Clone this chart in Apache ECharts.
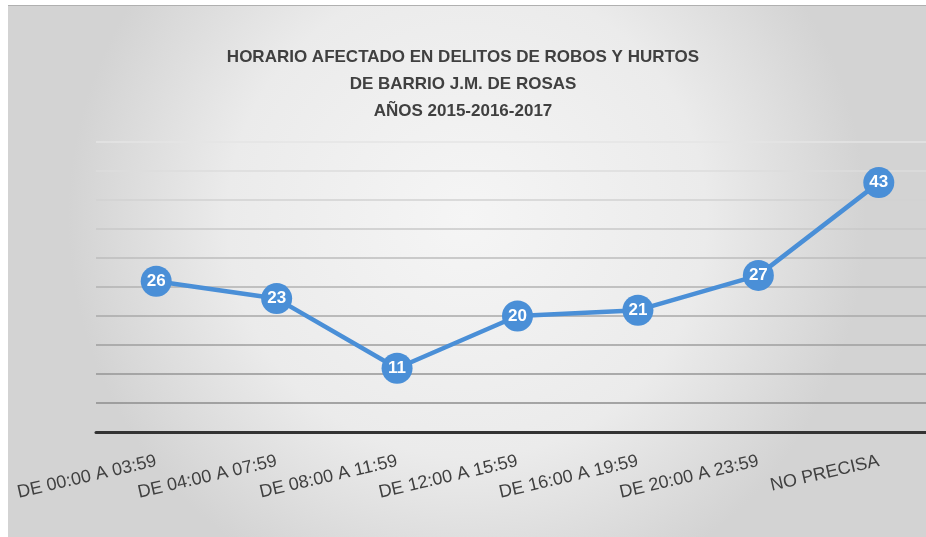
<!DOCTYPE html>
<html>
<head>
<meta charset="utf-8">
<script src="https://cdn.jsdelivr.net/npm/echarts@6/dist/echarts.min.js"></script>
<style>
  html, body { margin: 0; padding: 0; background: #ffffff; }
  #chart { width: 926px; height: 537px; }
</style>
</head>
<body>
<div id="chart"></div>
<script>
// Horario de los hechos (franjas de 4 horas)
const categories = [
  'DE 00:00 A 03:59',
  'DE 04:00 A 07:59',
  'DE 08:00 A 11:59',
  'DE 12:00 A 15:59',
  'DE 16:00 A 19:59',
  'DE 20:00 A 23:59',
  'NO PRECISA'
];
// Cantidad de robos y hurtos por franja
const delitos = [26, 23, 11, 20, 21, 27, 43];

const titleLines = [
  'HORARIO AFECTADO EN DELITOS DE ROBOS Y HURTOS',
  'DE BARRIO J.M. DE ROSAS',
  'AÑOS 2015-2016-2017'
];

// gridlines fade from dark (bottom) to light (top)
const gridColors = ['#333333', '#8c8c8c', '#959595', '#9e9e9e', '#a8a8a8', '#b2b2b2',
                    '#bdbdbd', '#c8c8c8', '#d2d2d2', '#dcdcdc', '#e4e4e4'];

const font = '"Liberation Sans", sans-serif';

const chart = echarts.init(document.getElementById('chart'), null, { renderer: 'canvas' });

chart.setOption({
  backgroundColor: '#ffffff',
  animation: false,
  graphic: [
    {
      type: 'rect',
      z: -10,
      silent: true,
      shape: { x: 8, y: 5, width: 918, height: 532 },
      style: {
        fill: new echarts.graphic.RadialGradient(0.5, 0.4, 0.75, [
          { offset: 0, color: '#f5f5f5' },
          { offset: 0.6, color: '#ebebeb' },
          { offset: 1, color: '#d3d3d3' }
        ])
      }
    },
    {
      type: 'line',
      z: -9,
      silent: true,
      shape: { x1: 8, y1: 5.5, x2: 926, y2: 5.5 },
      style: { stroke: '#b0b0b0', lineWidth: 1 }
    }
  ],
  title: {
    text: titleLines.join('\n'),
    left: 'center',
    top: 39,
    textStyle: {
      fontFamily: font,
      fontWeight: 'bold',
      fontSize: 17,
      lineHeight: 27,
      color: '#404040'
    }
  },
  // plot area runs a little past the right edge of the canvas
  grid: { left: 96, width: 843, top: 142, bottom: 105, containLabel: false, outerBoundsMode: 'none' },
  xAxis: {
    type: 'category',
    data: categories,
    boundaryGap: true,
    axisLine: { show: true, lineStyle: { color: '#333333', width: 3 } },
    axisTick: { show: false },
    axisLabel: {
      rotate: 13,
      margin: 29,
      interval: 0,
      fontFamily: font,
      fontSize: 18,
      color: '#404040'
    },
    splitLine: { show: false }
  },
  yAxis: {
    type: 'value',
    min: 0,
    max: 50,
    interval: 5,
    axisLine: { show: false },
    axisTick: { show: false },
    axisLabel: { show: false },
    splitLine: { show: true, lineStyle: { color: gridColors, width: 1.5 } }
  },
  series: [{
    type: 'line',
    data: delitos,
    symbol: 'circle',
    symbolSize: 31,
    itemStyle: { color: '#4a8fd7' },
    lineStyle: { color: '#4a8fd7', width: 4.5 },
    label: {
      show: true,
      position: 'inside',
      fontFamily: font,
      fontWeight: 'bold',
      fontSize: 17,
      color: '#ffffff'
    },
    z: 5
  }]
});
</script>
</body>
</html>
